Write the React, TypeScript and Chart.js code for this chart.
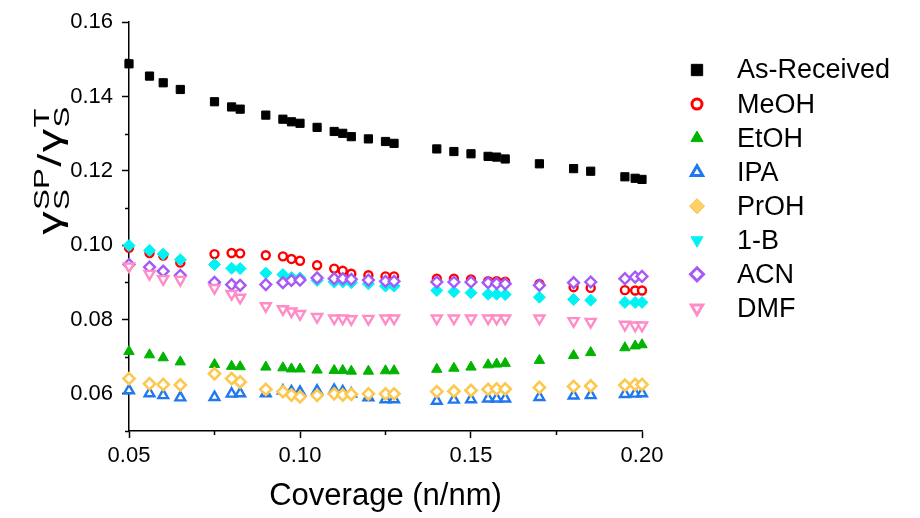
import React, { useEffect, useRef } from 'react';
import { Chart, registerables } from 'chart.js';
import { drawPoint } from 'chart.js/helpers';

Chart.register(...registerables);

// ---------------- data ----------------
const coverage = [0.05, 0.056, 0.06, 0.065, 0.075, 0.08, 0.0825, 0.09, 0.095, 0.0975, 0.1, 0.105, 0.11, 0.1125, 0.115, 0.12, 0.125, 0.1275, 0.14, 0.145, 0.15, 0.155, 0.1575, 0.16, 0.17, 0.18, 0.185, 0.195, 0.198, 0.2];

const asReceived = [0.1488, 0.1455, 0.1437, 0.1419, 0.1386, 0.1372, 0.1366, 0.135, 0.1339, 0.1332, 0.1328, 0.1317, 0.1306, 0.1301, 0.1292, 0.1286, 0.1279, 0.1274, 0.1259, 0.1252, 0.1246, 0.1239, 0.1237, 0.1232, 0.1219, 0.1206, 0.1199, 0.1184, 0.118, 0.1177];
const meoh = [0.0993, 0.0979, 0.0972, 0.0953, 0.0976, 0.0979, 0.0978, 0.0973, 0.097, 0.0963, 0.0958, 0.0946, 0.0937, 0.0931, 0.0923, 0.0919, 0.0916, 0.0916, 0.091, 0.091, 0.0908, 0.0903, 0.0903, 0.0902, 0.0896, 0.0887, 0.0885, 0.0879, 0.0878, 0.0878];
const etoh = [0.0714, 0.0705, 0.0697, 0.0686, 0.0679, 0.0674, 0.0673, 0.0672, 0.067, 0.0667, 0.0667, 0.0664, 0.0663, 0.0663, 0.0661, 0.0661, 0.0662, 0.0662, 0.0666, 0.0669, 0.0672, 0.0678, 0.068, 0.0682, 0.069, 0.0703, 0.0711, 0.0724, 0.0729, 0.0732];
const ipa = [0.0609, 0.0601, 0.0596, 0.059, 0.0591, 0.06, 0.0601, 0.0601, 0.0608, 0.0606, 0.0605, 0.0608, 0.061, 0.0606, 0.06, 0.059, 0.0585, 0.0585, 0.0581, 0.0584, 0.0585, 0.0587, 0.0587, 0.0587, 0.0591, 0.0595, 0.0596, 0.0599, 0.06, 0.0601];
const proh = [0.0641, 0.0627, 0.0625, 0.0624, 0.0654, 0.0641, 0.0632, 0.0612, 0.0606, 0.0597, 0.0592, 0.0596, 0.06, 0.0597, 0.0599, 0.06, 0.06, 0.06, 0.0606, 0.0607, 0.0609, 0.0612, 0.0613, 0.0613, 0.0617, 0.062, 0.0621, 0.0623, 0.0625, 0.0625];
const oneB = [0.0999, 0.0986, 0.0976, 0.0961, 0.0948, 0.0938, 0.0937, 0.0925, 0.0921, 0.0913, 0.0912, 0.0905, 0.0901, 0.0901, 0.0899, 0.0896, 0.089, 0.089, 0.0878, 0.0875, 0.0872, 0.0868, 0.0868, 0.0867, 0.086, 0.0854, 0.0852, 0.0846, 0.0846, 0.0846];
const acn = [0.0948, 0.0941, 0.093, 0.0919, 0.09, 0.0894, 0.0892, 0.0894, 0.0899, 0.0905, 0.0906, 0.0912, 0.091, 0.091, 0.0908, 0.0906, 0.0903, 0.0903, 0.0901, 0.0901, 0.0901, 0.0899, 0.0897, 0.0896, 0.0892, 0.0899, 0.0901, 0.091, 0.0914, 0.0916];
const dmf = [0.0943, 0.0923, 0.0909, 0.0907, 0.0885, 0.0869, 0.0859, 0.0836, 0.0828, 0.0822, 0.0815, 0.0807, 0.0803, 0.0803, 0.0801, 0.0802, 0.0803, 0.0803, 0.0803, 0.0803, 0.0803, 0.0803, 0.0803, 0.0803, 0.0803, 0.0796, 0.0794, 0.0786, 0.0784, 0.0784];

const seriesNames = ['As-Received', 'MeOH', 'EtOH', 'IPA', 'PrOH', '1-B', 'ACN', 'DMF'];
const seriesValues = [asReceived, meoh, etoh, ipa, proh, oneB, acn, dmf];

const xTicks = [0.05, 0.1, 0.15, 0.2];
const xMinorTicks = [0.075, 0.125, 0.175];
const yTicks = [0.06, 0.08, 0.1, 0.12, 0.14, 0.16];
const yMinorTicks = [0.05, 0.07, 0.09, 0.11, 0.13, 0.15];

const xTitle = 'Coverage (n/nm)';

// ---------------- styles ----------------
const FONT = "'Liberation Sans', Arial, sans-serif";

type Mark = { style: string; r: number; fill: string; stroke: string; bw: number; rot?: number };

const plotMarks: Mark[] = [
  { style: 'rect', r: 5.8, fill: '#000000', stroke: '#000000', bw: 1 },
  { style: 'circle', r: 4, fill: '#ffffff', stroke: '#ff0000', bw: 2.4 },
  { style: 'triangle', r: 6, fill: '#00b400', stroke: '#00b400', bw: 1 },
  { style: 'triangle', r: 5.6, fill: '#ffffff', stroke: '#1f78f0', bw: 2.4 },
  { style: 'rectRot', r: 5.6, fill: '#ffffff', stroke: '#fcc850', bw: 2.6 },
  { style: 'rectRot', r: 6, fill: '#00f2f2', stroke: '#00f2f2', bw: 1 },
  { style: 'rectRot', r: 5.4, fill: '#ffffff', stroke: '#a55af5', bw: 2.4 },
  { style: 'triangle', r: 5.8, fill: '#ffffff', stroke: '#ff8cc6', bw: 2.4, rot: 180 },
];

const legendMarks: Mark[] = [
  { style: 'rect', r: 8, fill: '#000000', stroke: '#000000', bw: 1 },
  { style: 'circle', r: 5, fill: '#ffffff', stroke: '#ff0000', bw: 3 },
  { style: 'triangle', r: 7, fill: '#00b400', stroke: '#00b400', bw: 1 },
  { style: 'triangle', r: 6.5, fill: '#ffffff', stroke: '#1f78f0', bw: 3 },
  { style: 'rectRot', r: 7.5, fill: '#ffd066', stroke: '#f2c04e', bw: 1 },
  { style: 'triangle', r: 7, fill: '#00f2f2', stroke: '#00f2f2', bw: 1, rot: 180 },
  { style: 'rectRot', r: 6.5, fill: '#ffffff', stroke: '#a55af5', bw: 3 },
  { style: 'triangle', r: 6.5, fill: '#ffffff', stroke: '#ff8cc6', bw: 3, rot: 180 },
];

const decorPlugin = {
  id: 'decor',
  afterDraw(chart: any) {
    const ctx: CanvasRenderingContext2D = chart.ctx;
    const xs = chart.scales.x;
    const ys = chart.scales.y;
    const area = chart.chartArea;

    // minor ticks
    ctx.save();
    ctx.strokeStyle = '#000';
    ctx.lineWidth = 1.5;
    ctx.beginPath();
    xMinorTicks.forEach((v) => {
      const px = Math.round(xs.getPixelForValue(v)) + 0.5;
      ctx.moveTo(px, area.bottom);
      ctx.lineTo(px, area.bottom + 4);
    });
    yMinorTicks.forEach((v) => {
      const py = Math.round(ys.getPixelForValue(v)) + 0.5;
      ctx.moveTo(area.left, py);
      ctx.lineTo(area.left - 4, py);
    });
    ctx.stroke();
    ctx.restore();

    // y axis title: γS^SP / γS^T (rotated)
    ctx.save();
    ctx.translate(61, 170);
    ctx.rotate(-Math.PI / 2);
    ctx.scale(1.42, 1);
    ctx.fillStyle = '#000';
    ctx.textBaseline = 'alphabetic';
    ctx.textAlign = 'left';
    const big = `33px ${FONT}`;
    const small = `22px ${FONT}`;
    const pieces: Array<{ kind: 'main' | 'stack'; text?: string; sub?: string; sup?: string }> = [
      { kind: 'main', text: 'γ' },
      { kind: 'stack', sub: 'S', sup: 'SP' },
      { kind: 'main', text: '/' },
      { kind: 'main', text: 'γ' },
      { kind: 'stack', sub: 'S', sup: 'T' },
    ];
    const widths = pieces.map((p) => {
      if (p.kind === 'main') {
        ctx.font = big;
        return ctx.measureText(p.text as string).width + 1;
      }
      ctx.font = small;
      return Math.max(ctx.measureText(p.sub as string).width, ctx.measureText(p.sup as string).width) + 1;
    });
    const total = widths.reduce((a, b) => a + b, 0);
    let cx = -total / 2;
    pieces.forEach((p, i) => {
      if (p.kind === 'main') {
        ctx.font = big;
        ctx.fillText(p.text as string, cx, 0);
      } else {
        ctx.font = small;
        ctx.fillText(p.sub as string, cx, 8);
        ctx.fillText(p.sup as string, cx, -12);
      }
      cx += widths[i];
    });
    ctx.restore();

    // legend
    ctx.save();
    const lx = 697;
    const tx = 737;
    const y0 = 70;
    const dy = 34.05;
    ctx.font = `27px ${FONT}`;
    ctx.textBaseline = 'middle';
    ctx.textAlign = 'left';
    seriesNames.forEach((name, i) => {
      const m = legendMarks[i];
      const y = y0 + i * dy;
      ctx.fillStyle = m.fill;
      ctx.strokeStyle = m.stroke;
      ctx.lineWidth = m.bw;
      drawPoint(ctx, { pointStyle: m.style as any, radius: m.r, rotation: m.rot || 0, borderWidth: m.bw }, lx, y);
      ctx.fillStyle = '#000';
      ctx.fillText(name, tx, y + 1);
    });
    ctx.restore();
  },
};

export default function App() {
  const canvasRef = useRef<HTMLCanvasElement | null>(null);

  useEffect(() => {
    const canvas = canvasRef.current;
    if (!canvas) return;
    const n = seriesNames.length;
    const datasets = seriesNames.map((name, i) => {
      const m = plotMarks[i];
      return {
        label: name,
        data: coverage.map((x, k) => ({ x, y: seriesValues[i][k] })),
        showLine: false,
        pointStyle: m.style,
        pointRadius: m.r,
        pointHoverRadius: m.r,
        pointBackgroundColor: m.fill,
        pointBorderColor: m.stroke,
        pointBorderWidth: m.bw,
        pointRotation: m.rot || 0,
        clip: false as any,
        order: n - i,
      };
    });

    const tickFont = { size: 22, family: FONT };
    const chart = new Chart(canvas, {
      type: 'scatter',
      data: { datasets: datasets as any },
      options: {
        responsive: false,
        animation: false,
        events: [],
        layout: { padding: { top: 19, right: 278, bottom: 0, left: 0 } },
        plugins: {
          legend: { display: false },
          tooltip: { enabled: false },
        },
        scales: {
          x: {
            type: 'linear',
            min: 0.05,
            max: 0.2,
            afterBuildTicks: (scale: any) => {
              scale.ticks = xTicks.map((v) => ({ value: v }));
            },
            afterFit: (scale: any) => {
              scale.height = 87;
            },
            border: { display: true, color: '#000', width: 1.5 },
            grid: { display: true, drawOnChartArea: false, drawTicks: true, tickLength: 7, tickWidth: 1.5, tickColor: '#000' },
            ticks: {
              autoSkip: false,
              maxRotation: 0,
              padding: 5,
              color: '#000',
              font: tickFont,
              callback: (v: any) => Number(v).toFixed(2),
            },
            title: {
              display: true,
              text: xTitle,
              color: '#000',
              font: { size: 31, family: FONT },
              padding: { top: 0, bottom: 3 },
            },
          },
          y: {
            type: 'linear',
            min: 0.05,
            max: 0.16,
            afterBuildTicks: (scale: any) => {
              scale.ticks = yTicks.map((v) => ({ value: v }));
            },
            afterFit: (scale: any) => {
              scale.width = 129;
            },
            border: { display: true, color: '#000', width: 1.5 },
            grid: { display: true, drawOnChartArea: false, drawTicks: true, tickLength: 7, tickWidth: 1.5, tickColor: '#000' },
            ticks: {
              autoSkip: false,
              padding: 9,
              color: '#000',
              font: tickFont,
              callback: (v: any) => Number(v).toFixed(2),
            },
          },
        },
      },
      plugins: [decorPlugin],
    });
    return () => chart.destroy();
  }, []);

  return (
    <div style={{ position: 'fixed', left: 0, top: 0, width: 920, height: 518, background: '#fff' }}>
      <canvas ref={canvasRef} width={920} height={518} style={{ display: 'block' }} />
    </div>
  );
}
